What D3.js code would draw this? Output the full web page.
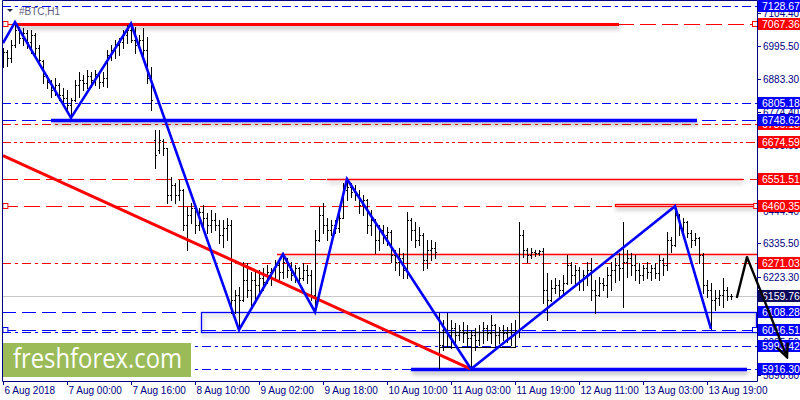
<!DOCTYPE html>
<html>
<head>
<meta charset="utf-8">
<script src="https://cdn.jsdelivr.net/npm/d3@7"></script>
<style>
html, body { margin: 0; padding: 0; background: #fff; }
svg { display: block; font-family: "Liberation Sans", Arial, sans-serif; }
</style>
</head>
<body>
<div id="chart"></div>
<script>
// BTC H1 bars, [open, high, low, close], one per hour (bar index 0 = 6 Aug 2018)
var ohlc = [
  [6948,6988,6925,6975],[6975,6982,6928,6955],[6955,7015,6942,6998],[6998,7075,6992,7049],[7049,7059,7005,7022],
  [7022,7055,6998,7038],[7038,7049,6988,7008],[7008,7049,6972,7032],[7032,7038,6965,6988],[6988,6998,6932,6948],
  [6945,6948,6871,6895],[6895,6898,6855,6875],[6875,6882,6825,6848],[6848,6888,6831,6865],[6865,6871,6815,6831],
  [6831,6855,6808,6821],[6821,6848,6781,6798],[6798,6821,6755,6815],[6815,6882,6812,6865],[6865,6908,6825,6882],
  [6882,6898,6848,6871],[6871,6915,6855,6895],[6895,6908,6858,6882],[6882,6915,6865,6902],[6900,6904,6855,6875],
  [6875,6908,6861,6888],[6888,6982,6858,6965],[6965,6998,6948,6982],[6982,7015,6955,6998],[6998,7022,6965,7008],
  [7008,7049,6988,7032],[7032,7065,7005,7049],[7049,7070,7008,7015],[7015,7059,6972,6998],[6998,7032,6982,7015],
  [7015,7055,6965,6982],[6982,7025,6871,6888],[6888,6925,6781,6815],[6681,6715,6588,6631],[6648,6715,6638,6681],
  [6678,6683,6631,6654],[6654,6656,6471,6497],[6497,6558,6481,6531],[6531,6537,6471,6497],[6497,6548,6481,6514],
  [6514,6516,6381,6397],[6397,6457,6314,6431],[6431,6471,6404,6454],[6454,6456,6370,6397],[6397,6454,6381,6441],
  [6441,6464,6387,6421],[6421,6437,6370,6397],[6397,6447,6374,6414],[6414,6437,6381,6397],[6397,6414,6337,6364],
  [6364,6414,6324,6387],[6387,6421,6347,6397],[6397,6414,6103,6147],[6147,6180,6103,6163],[6163,6190,6047,6147],
  [6147,6274,6145,6214],[6214,6270,6157,6180],[6180,6240,6123,6214],[6214,6247,6137,6197],[6197,6247,6173,6220],
  [6220,6254,6180,6207],[6207,6264,6203,6240],[6240,6254,6197,6220],[6220,6280,6214,6264],[6264,6274,6207,6240],
  [6240,6300,6220,6274],[6274,6287,6224,6247],[6247,6274,6214,6230],[6230,6264,6207,6254],[6252,6256,6197,6220],
  [6220,6270,6214,6247],[6247,6264,6203,6230],[6230,6247,6147,6163],[6163,6381,6107,6347],[6347,6457,6345,6431],
  [6431,6471,6370,6397],[6397,6421,6347,6381],[6381,6414,6364,6397],[6397,6414,6370,6387],[6387,6437,6374,6421],
  [6421,6537,6419,6514],[6514,6551,6481,6524],[6524,6537,6491,6507],[6507,6531,6481,6497],[6497,6514,6437,6464],
  [6464,6497,6431,6481],[6481,6483,6370,6397],[6397,6447,6364,6414],[6414,6416,6304,6347],[6347,6397,6314,6381],
  [6381,6397,6337,6364],[6364,6391,6330,6374],[6374,6381,6274,6297],[6297,6314,6247,6274],[6274,6320,6230,6287],
  [6287,6304,6220,6247],[6247,6441,6220,6414],[6414,6421,6347,6381],[6381,6407,6324,6347],[6347,6391,6330,6364],
  [6364,6370,6247,6280],[6280,6347,6254,6314],[6314,6347,6280,6320],[6320,6340,6287,6307],[6090,6103,5918,5996],
  [5996,6080,5980,6047],[6047,6103,5990,6030],[6030,6080,5986,6053],[6053,6070,5996,6030],[6030,6063,6013,6047],
  [6047,6073,6006,6036],[6036,6063,5990,6020],[6020,6047,5916,6030],[6030,6053,5980,6013],[6013,6063,5996,6040],
  [6040,6073,6003,6053],[6053,6063,6013,6036],[6036,6097,6003,6063],[6062,6066,5996,6030],[6030,6057,6003,6047],
  [6047,6063,6013,6036],[6036,6057,6006,6047],[6047,6070,5996,6030],[6030,6080,5990,6047],[6047,6407,6023,6364],
  [6364,6381,6290,6314],[6314,6320,6274,6297],[6297,6320,6287,6307],[6307,6314,6294,6304],[6304,6314,6297,6310],
  [6310,6320,6137,6180],[6180,6237,6080,6147],[6147,6214,6145,6187],[6187,6220,6170,6197],[6197,6214,6153,6180],
  [6180,6230,6170,6203],[6203,6297,6200,6264],[6264,6274,6203,6230],[6230,6264,6197,6247],[6247,6257,6180,6214],
  [6214,6247,6180,6230],[6230,6274,6197,6247],[6247,6287,6147,6180],[6180,6214,6103,6163],[6163,6224,6160,6203],
  [6203,6220,6180,6197],[6197,6257,6157,6230],[6230,6274,6180,6247],[6247,6287,6207,6264],[6264,6304,6214,6254],
  [6254,6407,6123,6274],[6274,6314,6224,6287],[6287,6304,6230,6264],[6264,6297,6214,6247],[6247,6270,6203,6230],
  [6230,6264,6214,6254],[6254,6274,6220,6240],[6240,6264,6214,6254],[6254,6270,6220,6237],[6237,6297,6214,6280],
  [6280,6287,6230,6264],[6264,6374,6247,6347],[6347,6357,6307,6330],[6330,6460,6328,6431],[6429,6433,6364,6387],
  [6387,6421,6374,6407],[6407,6409,6357,6370],[6370,6381,6324,6347],[6347,6370,6330,6354],[6354,6356,6270,6297],
  [6297,6304,6170,6197],[6197,6214,6157,6180],[6180,6203,6050,6147],[6147,6180,6113,6153],[6153,6180,6130,6163],
  [6163,6220,6123,6180],[6180,6190,6147,6160],[6160,6167,6150,6159.76]
];

// time axis
var timeTickBars = [0, 16, 32, 48, 64, 80, 96, 112, 128, 144, 160, 176];
var timeTickLabels = ["6 Aug 2018", "7 Aug 00:00", "7 Aug 16:00", "8 Aug 10:00", "9 Aug 02:00", "9 Aug 18:00",
                      "10 Aug 10:00", "11 Aug 03:00", "11 Aug 19:00", "12 Aug 11:00", "13 Aug 03:00", "13 Aug 19:00"];

// price axis
var priceTicks = [7104.40, 6995.50, 6883.30, 6774.40, 6665.50, 6556.60, 6444.40, 6335.50, 6223.30, 6114.40, 6005.50, 5896.60];

// horizontal levels
var blueDashDotLevels = [7128.67, 6805.18, 6040, 5993.42, 5916.30];
var blueDashLevels = [6748.62, 6108.28, 6046.51];
var redDashLevels = [7067.36, 6551.51, 6460.35];
var redDashDotLevels = [6736.18, 6271.03];
var redDashDotDotLevels = [6674.59];
var bidPrice = 6159.76;

// price labels on the right scale
var redTags = [7067.36, 6736.18, 6674.59, 6551.51, 6460.35, 6271.03];
var blueTags = [7128.67, 6805.18, 6748.62, 6108.28, 6046.51, 5993.42, 5916.30];

// drawn objects: [bar from, bar to, price]
var redThickSegs = [[3, 154, 7067.36]];
var blueThickSegs = [[12, 173.5, 6748.62], [102, 186, 5916.30]];
var redSolidSegs = [[81, 185, 6551.51], [68.5, 189, 6302]];
// boxes: [bar from, bar to, top price, bottom price]
var blueBox = [49.5, 188.3, 6108.28, 6040];
var redBox = [153, 188.3, 6466, 6458];
var blackBox = [109, 128, 6040, 5990];

// zigzag [bar, price]
var zigzag = [[0, 7005], [3, 7075], [17, 6755], [32, 7070], [59, 6047], [70, 6300],
              [78, 6107], [86, 6551], [117, 5916], [168, 6460], [177, 6050]];
var redTrend = [[0, 6629], [117, 5916]];
var forecast = [[183.5, 6157], [186, 6290], [196, 5956]];

var width = 800, height = 400,
    plotRight = 757, plotBottom = 381;

var x = d3.scaleLinear().domain([0, 189]).range([3, 759]);
var y = d3.scaleLinear().domain([5876.2, 7148.7]).range([plotBottom, 0]);

var svg = d3.select("#chart").append("svg")
    .attr("width", width)
    .attr("height", height);

var defs = svg.append("defs");
defs.append("filter")
    .attr("id", "shadow")
    .attr("filterUnits", "userSpaceOnUse")
    .attr("x", 0).attr("y", 0).attr("width", width).attr("height", height)
  .append("feDropShadow")
    .attr("dx", 1).attr("dy", 3).attr("stdDeviation", 2.2)
    .attr("flood-color", "#000").attr("flood-opacity", 0.3);

defs.append("clipPath").attr("id", "plot")
  .append("rect").attr("x", 2).attr("y", 1).attr("width", plotRight - 2).attr("height", plotBottom - 1);

defs.append("marker")
    .attr("id", "head")
    .attr("viewBox", "0 0 16 16")
    .attr("refX", 14).attr("refY", 8)
    .attr("markerWidth", 16).attr("markerHeight", 16)
    .attr("markerUnits", "userSpaceOnUse")
    .attr("orient", "auto")
  .append("path")
    .attr("d", "M1,2 L14,8 L1,14")
    .attr("fill", "none").attr("stroke", "#000").attr("stroke-width", 2.4);

svg.append("rect").attr("width", width).attr("height", height).attr("fill", "#fff");

var g = svg.append("g").attr("clip-path", "url(#plot)");

function py(p) { return Math.round(y(p)) + 0.5; }

function levels(arr, color, dash) {
    g.selectAll(null).data(arr).enter().append("line")
        .attr("x1", 2).attr("x2", plotRight)
        .attr("y1", py).attr("y2", py)
        .attr("stroke", color)
        .attr("stroke-width", 1)
        .attr("stroke-dasharray", dash);
}

// bid line
g.append("line")
    .attr("x1", 2).attr("x2", plotRight)
    .attr("y1", py(bidPrice)).attr("y2", py(bidPrice))
    .attr("stroke", "#c8c8c8");

levels(blueDashDotLevels, "#0000ff", "9,4,3,4");
levels(blueDashLevels, "#0000ff", "14,6");
levels(redDashLevels, "#ff0000", "16,6");
levels(redDashDotLevels, "#ff0000", "9,4,3,4");
levels(redDashDotDotLevels, "#ff0000", "9,3,3,3,3,3");

// boxes
function box(b, color, w) {
    g.append("rect")
        .attr("x", Math.round(x(b[0])) + 0.5)
        .attr("y", py(b[2]))
        .attr("width", Math.round(x(b[1]) - x(b[0])))
        .attr("height", Math.max(2, Math.round(y(b[3]) - y(b[2]))))
        .attr("fill", "none")
        .attr("stroke", color)
        .attr("stroke-width", w)
        .attr("filter", "url(#shadow)");
}
box(blueBox, "#0000ff", 1.3);
box(redBox, "#ff0000", 1.3);
g.append("rect")
    .attr("x", Math.round(x(blackBox[0])) + 0.5)
    .attr("y", py(blackBox[2]))
    .attr("width", Math.round(x(blackBox[1]) - x(blackBox[0])))
    .attr("height", Math.round(y(blackBox[3]) - y(blackBox[2])))
    .attr("fill", "none").attr("stroke", "#000").attr("stroke-width", 1);

// horizontal segments
function segs(arr, color, w) {
    g.selectAll(null).data(arr).enter().append("line")
        .attr("x1", function(d) { return x(d[0]); })
        .attr("x2", function(d) { return x(d[1]); })
        .attr("y1", function(d) { return py(d[2]); })
        .attr("y2", function(d) { return py(d[2]); })
        .attr("stroke", color)
        .attr("stroke-width", w)
        .attr("filter", "url(#shadow)");
}
segs(redSolidSegs, "#ff0000", 1.3);
segs(redThickSegs, "#ff0000", 3);
segs(blueThickSegs, "#0000ff", 3.5);

// markers on level ends
function square(i, p, color) {
    g.append("rect")
        .attr("x", x(i) - 2.5).attr("y", py(p) - 3)
        .attr("width", 5).attr("height", 5)
        .attr("fill", "#fff").attr("stroke", color);
}

// OHLC bars
var barG = g.append("g").attr("fill", "#000");
ohlc.forEach(function(d, i) {
    var bx = Math.round(x(i));
    var yh = Math.round(y(d[1])), yl = Math.round(y(d[2]));
    barG.append("rect").attr("x", bx).attr("y", yh).attr("width", 1).attr("height", Math.max(1, yl - yh + 1));
    barG.append("rect").attr("x", bx - 1).attr("y", Math.round(y(d[0]))).attr("width", 1).attr("height", 1);
    barG.append("rect").attr("x", bx + 1).attr("y", Math.round(y(d[3]))).attr("width", 1).attr("height", 1);
});

var line = d3.line()
    .x(function(d) { return x(d[0]); })
    .y(function(d) { return y(d[1]); });

g.append("path")
    .datum(redTrend)
    .attr("d", line)
    .attr("fill", "none").attr("stroke", "#ff0000").attr("stroke-width", 3);

g.append("path")
    .datum(zigzag)
    .attr("d", line)
    .attr("fill", "none").attr("stroke", "#0000ff").attr("stroke-width", 2.6)
    .attr("stroke-linejoin", "miter");

square(0.6, 7067.36, "#ff0000");
square(188, 7067.36, "#ff0000");
square(0.6, 6460.35, "#ff0000");
square(188.3, 6460.35, "#ff0000");
square(0.6, 6046.51, "#0000ff");
square(188, 6046.51, "#0000ff");

// frame and axes
var axisColor = "#000080";
svg.append("path")
    .attr("d", "M2.5," + plotBottom + ".5 V0.5 H" + plotRight + ".5 V" + plotBottom + ".5 H2.5")
    .attr("fill", "none").attr("stroke", axisColor);

var tAxis = svg.append("g").attr("fill", axisColor).attr("font-size", "10px");
timeTickBars.forEach(function(b, k) {
    var tx = Math.round(x(b)) + 0.5;
    tAxis.append("line")
        .attr("x1", tx).attr("x2", tx).attr("y1", plotBottom).attr("y2", plotBottom + 4)
        .attr("stroke", axisColor);
    tAxis.append("text")
        .attr("x", tx + 1).attr("y", 394)
        .text(timeTickLabels[k]);
});

var pAxis = svg.append("g").attr("fill", axisColor).attr("font-size", "10px");
priceTicks.forEach(function(p) {
    var ty = py(p);
    pAxis.append("line")
        .attr("x1", plotRight).attr("x2", plotRight + 4).attr("y1", ty).attr("y2", ty)
        .attr("stroke", axisColor);
    pAxis.append("text")
        .attr("x", 763).attr("y", ty + 3.5)
        .text(p.toFixed(2));
});

function tag(p, bg) {
    var ty = Math.round(y(p));
    svg.append("rect")
        .attr("x", 758).attr("y", ty - 6)
        .attr("width", 42).attr("height", 12)
        .attr("fill", bg);
    svg.append("text")
        .attr("x", 762).attr("y", ty + 4)
        .attr("fill", "#fff").attr("font-size", "10.5px")
        .text(p.toFixed(2));
}
redTags.forEach(function(p) { if (p !== 6736.18) return; tag(p, "#ff0000"); });
blueTags.forEach(function(p) { if (p !== 6748.62) return; tag(p, "#0000ff"); });
redTags.forEach(function(p) { if (p === 6736.18) return; tag(p, "#ff0000"); });
tag(bidPrice, "#0a0a5c");
blueTags.forEach(function(p) { if (p === 6748.62) return; tag(p, "#0000ff"); });

// hand drawn forecast
svg.append("path")
    .datum(forecast)
    .attr("d", line)
    .attr("fill", "none").attr("stroke", "#000").attr("stroke-width", 2.4)
    .attr("stroke-linejoin", "round").attr("stroke-linecap", "round")
    .attr("marker-end", "url(#head)");

// symbol caption
svg.append("path").attr("d", "M7,9 H13 L10,12 Z").attr("fill", "#202040");
svg.append("text")
    .attr("x", 19).attr("y", 15)
    .attr("font-size", "10px").attr("fill", "#5b5b7b")
    .text("#BTC,H1");

// logo
svg.append("rect")
    .attr("x", 3).attr("y", 343).attr("width", 188).attr("height", 34)
    .attr("fill", "#9bbb59");
svg.append("text")
    .attr("x", 13).attr("y", 368)
    .attr("font-family", "'Open Sans', 'Noto Sans', sans-serif")
    .attr("font-size", "27px")
    .attr("fill", "#fff")
    .attr("textLength", 169)
    .attr("lengthAdjust", "spacingAndGlyphs")
    .text("freshforex.com");
</script>
</body>
</html>
